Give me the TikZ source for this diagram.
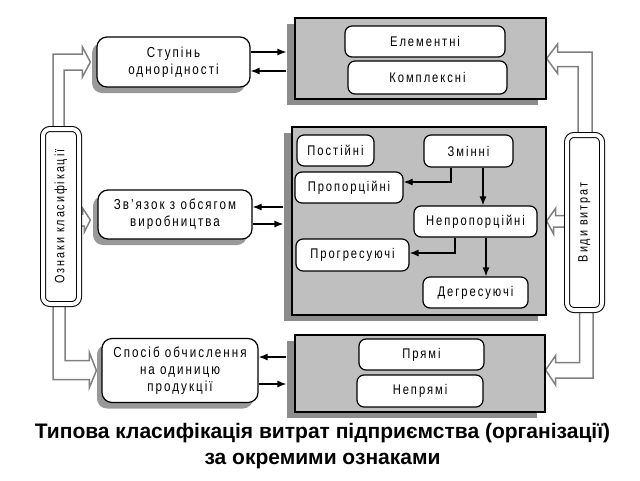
\documentclass[tikz,border=0pt]{standalone}
\usepackage{fontspec}
\setmainfont{Liberation Sans}
\newfontfamily\boxfont[FakeStretch=0.8,LetterSpace=14]{Liberation Sans}
\usepackage{tikz}
\usetikzlibrary{arrows.meta,shadows,backgrounds}

\begin{document}
\begin{tikzpicture}[x=1pt,y=-1pt,
  >={Latex[length=9pt,width=7pt]},
  panel/.style={draw,line width=1.2pt,fill=black!25,
    drop shadow={shadow xshift=-8pt,shadow yshift=-6pt,fill=black!45,opacity=1}},
  item/.style={draw,line width=1.2pt,fill=white,rounded corners=7pt,
    font=\boxfont\fontsize{14}{16}\selectfont},
  sidebox/.style={item,rounded corners=10pt,align=center,
    font=\boxfont\fontsize{14.5}{17}\selectfont,
    drop shadow={shadow xshift=-5pt,shadow yshift=-6pt,fill=black!40,opacity=1}},
  signbox/.style={draw,line width=1pt,double,double distance=4pt,fill=white,
    rounded corners=7pt,minimum height=175pt,
    font=\boxfont\fontsize{13.5}{15}\selectfont},
  hollow/.style={draw=black!50,line width=1.5pt,fill=white},
  link/.style={->,line width=1.2pt}]
  \useasboundingbox (0,0) rectangle (640,480);

  %panels
  \node[panel,minimum width=251pt,minimum height=81pt] (topp) at (420.5,58.5) {};
  \node[panel,minimum width=254pt,minimum height=188pt] (midp) at (419,221) {};
  \node[panel,minimum width=250pt,minimum height=77pt] (botp) at (420,373.5) {};

  %kinds inside the panels
  \node[item,minimum width=160pt,minimum height=31pt] (elem) at (425,41.5) {Елементні};
  \node[item,minimum width=159pt,minimum height=33pt] (kompl) at (427.5,77.5) {Комплексні};
  \node[item,minimum width=77pt,minimum height=31pt] (postiyni) at (335.5,150.5) {Постійні};
  \node[item,minimum width=89pt,minimum height=32pt] (zminni) at (468.5,151) {Змінні};
  \node[item,minimum width=108pt,minimum height=31pt] (propor) at (349,187.5) {Пропорційні};
  \node[item,minimum width=123pt,minimum height=31pt] (nepropor) at (475.5,221.5) {Непропорційні};
  \node[item,minimum width=113pt,minimum height=32pt] (progres) at (352.5,255) {Прогресуючі};
  \node[item,minimum width=105pt,minimum height=31pt] (degres) at (475.5,292.5) {Дегресуючі};
  \node[item,minimum width=125pt,minimum height=31pt] (pryami) at (421.5,354.5) {Прямі};
  \node[item,minimum width=126pt,minimum height=32pt] (nepryami) at (420,391) {Непрямі};

  %signs
  \node[sidebox,minimum width=153pt,minimum height=50pt] (stupin) at (173.5,62) {Ступінь\\однорідності};
  \node[sidebox,minimum width=154pt,minimum height=49pt] (zvyazok) at (175,214.5) {Зв’язок з обсягом\\виробництва};
  \node[sidebox,minimum width=156pt,minimum height=64pt] (sposib) at (180,370.5) {Спосіб обчислення\\на одиницю\\продукції};

  \node[signbox,minimum width=36pt] (ozn) at (61,216.5) {\rotatebox{90}{Ознаки класифікації}};
  \node[signbox,minimum width=35pt] (vid) at (584.5,222.5) {\rotatebox{90}{Види витрат}};

  %hollow arrows
  \begin{scope}[on background layer]
    \draw[hollow] ([xshift=-8pt]ozn.north) |- ([xshift=-14pt,yshift=8pt]stupin.west) -- ++(0,-7)
      -- ([xshift=-6pt]stupin.west) -- ++(-8,15) -- ++(0,-7) -| ([xshift=3pt]ozn.north) -- cycle;
    \draw[hollow] ([yshift=2.5pt]ozn.east) -- ++(3,0) -- ++(0,-6)
      -- ([xshift=-7pt,yshift=-5.5pt]zvyazok.west) -- ++(-6,12) -- ++(0,-6) -- ++(-3,0) -- cycle;
    \draw[hollow] ([xshift=-8pt]ozn.south) |- ([xshift=-12pt,yshift=-9pt]sposib.west) -- ++(0,8)
      -- ([xshift=-5pt]sposib.west) -- ++(-7,-18) -- ++(0,8) -| ([xshift=4pt]ozn.south) -- cycle;
    \draw[hollow] ([xshift=7.5pt]vid.north) |- ([xshift=11pt,yshift=6.5pt]topp.east) -- ++(0,-8)
      -- (topp.east) -- ++(11,15) -- ++(0,-7) -| ([xshift=-6.5pt]vid.north) -- cycle;
    \draw[hollow] ([yshift=7pt]vid.west) -- ++(-11,0) -- ++(0,-7)
      -- (midp.east) -- ++(7,13) -- ++(0,-7) -- ++(11,0) -- cycle;
    \draw[hollow] ([xshift=-5pt]vid.south) |- ([xshift=10pt,yshift=11pt]botp.east) -- ++(0,-7)
      -- ([yshift=3.5pt]botp.east) -- ++(10,15) -- ++(0,-7) -| ([xshift=8.5pt]vid.south) -- cycle;
  \end{scope}

  %links between signs and panels
  \draw[link,shorten >=8pt] ([yshift=10pt]stupin.east) -- ([yshift=10pt]stupin.east -| topp.west);
  \draw[link,shorten <=8pt] ([yshift=-9pt]stupin.east -| topp.west) -- ([yshift=-9pt]stupin.east);
  \draw[link,shorten <=8pt] ([yshift=7.5pt]zvyazok.east -| midp.west) -- ([yshift=7.5pt]zvyazok.east);
  \draw[link,shorten >=8pt] ([yshift=-9.5pt]zvyazok.east) -- ([yshift=-9.5pt]zvyazok.east -| midp.west);
  \draw[link,shorten <=8pt] ([yshift=13.5pt]sposib.east -| botp.west) -- ([yshift=13.5pt]sposib.east);
  \draw[link,shorten >=8pt] ([yshift=-13.5pt]sposib.east) -- ([yshift=-13.5pt]sposib.east -| botp.west);

  %variable costs
  \draw[link] ([xshift=-17.5pt]zminni.south) |- ([yshift=5.5pt]propor.east);
  \draw[link] ([xshift=14.5pt]zminni.south) -- ([xshift=14.5pt]zminni.south |- nepropor.north);
  \draw[link] ([xshift=-20.5pt]nepropor.south) |- ([yshift=2pt]progres.east);
  \draw[link] ([xshift=10.5pt]nepropor.south) -- ([xshift=10.5pt]nepropor.south |- degres.north);

  %caption
  \node[font=\bfseries\fontsize{21}{26}\selectfont,align=center,anchor=base] (title) at (322.5,464)
    {Типова класифікація витрат підприємства (організації)\\за окремими ознаками};
\end{tikzpicture}
\end{document}
